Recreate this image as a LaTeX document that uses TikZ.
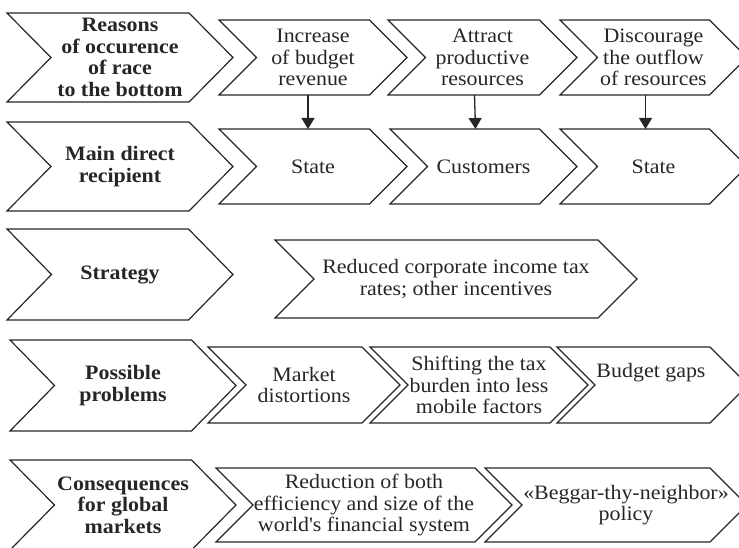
\documentclass[tikz,border=0pt]{standalone}
\usepackage{fontspec}
\setmainfont[FakeStretch=1.07]{Liberation Serif}
\usetikzlibrary{arrows.meta}
\newcommand\chevfont{\fontsize{20.5}{21.5}\selectfont}
\newcommand\drawchev[2]{\draw[chevline] (#1.north west) -- ([xshift=-#2]#1.north east) -- (#1.east) -- ([xshift=-#2]#1.south east) -- (#1.south west) -- ([xshift=#2]#1.west) -- cycle;}
\definecolor{ink}{HTML}{262626}
\tikzset{
  chev/.style={shape=rectangle, inner sep=0pt, outer sep=0pt, align=center, font=\chevfont, text=ink},
  headchev/.style={chev, font=\chevfont\bfseries},
  txt/.style={inner sep=0pt, align=center, font=\chevfont, text=ink},
  chevline/.style={draw=ink, line width=1.2pt, line join=miter},
  arr/.style={draw=ink, line width=1.3pt, -{Triangle[length=11pt,width=13pt]}}
}
\begin{document}
\begin{tikzpicture}[x=1pt,y=-1pt]
\useasboundingbox (0,0) rectangle (739,548);
\clip (0,0) rectangle (739,548);
% row 1
\node[headchev, minimum width=226, minimum height=89] (l1) at (120,57.5) {Reasons\\of occurence\\of race\\to the bottom};
\node[chev, minimum width=188, minimum height=75] (a1) at (313,57.5) {Increase\\of budget\\revenue};
\node[chev, minimum width=189, minimum height=75] (b1) at (482.5,57.5) {Attract\\productive\\resources};
\node[chev, minimum width=187, minimum height=75] (c1) at (653.5,57.5) {Discourage\\the outflow\\of resources};
% row 2
\node[headchev, minimum width=226, minimum height=89] (l2) at (120,166.5) {Main direct\\recipient};
\node[chev, minimum width=188, minimum height=75] (a2) at (313,166.5) {State};
\node[chev, minimum width=187, minimum height=75] (b2) at (483.5,166.5) {Customers};
\node[chev, minimum width=187, minimum height=75] (c2) at (653.5,166.5) {State};
% row 3
\node[headchev, minimum width=226, minimum height=91] (l3) at (120,274.5) {Strategy};
\node[chev, minimum width=362, minimum height=78] (a3) at (456,279) {Reduced corporate income tax\\rates; other incentives};
% row 4
\node[headchev, minimum width=226, minimum height=91] (l4) at (123,385.5) {Possible\\problems};
\node[chev, minimum width=192, minimum height=76] (a4) at (304,385) {Market\\distortions};
\node[chev, minimum width=218, minimum height=76] (b4) at (479,385) {Shifting the tax\\burden into less\\mobile factors};
\node[chev, minimum width=191, minimum height=76] (c4) at (652.5,385) {};
\node[txt] (c4t) at (651,373) {Budget gaps};
% row 5
\node[headchev, minimum width=226, minimum height=90] (l5) at (123,505) {Consequences\\for global\\markets};
\node[chev, minimum width=296, minimum height=74] (a5) at (364,505) {Reduction of both\\efficiency and size of the\\world\textquotesingle s financial system};
\node[chev, minimum width=262, minimum height=74] (b5) at (616,505) {};
\node[txt] (b5t) at (626,505) {«Beggar-thy-neighbor»\\policy};
% outlines
\drawchev{l1}{44}
\drawchev{a1}{37.5}
\drawchev{b1}{37.5}
\drawchev{c1}{37.5}
\drawchev{l2}{44}
\drawchev{a2}{37.5}
\drawchev{b2}{37.5}
\drawchev{c2}{37.5}
\drawchev{l3}{44.5}
\drawchev{a3}{39}
\drawchev{l4}{44.5}
\drawchev{a4}{38}
\drawchev{b4}{38}
\drawchev{c4}{38}
\drawchev{l5}{44.5}
\drawchev{a5}{37}
\drawchev{b5}{37}
% arrows
\draw[arr] ([xshift=-5]a1.south) -- ([xshift=-5]a2.north);
\draw[arr] ([xshift=-8]b1.south) -- ([xshift=-8]b2.north);
\draw[arr] ([xshift=-8]c1.south) -- ([xshift=-8]c2.north);
\end{tikzpicture}
\end{document}
